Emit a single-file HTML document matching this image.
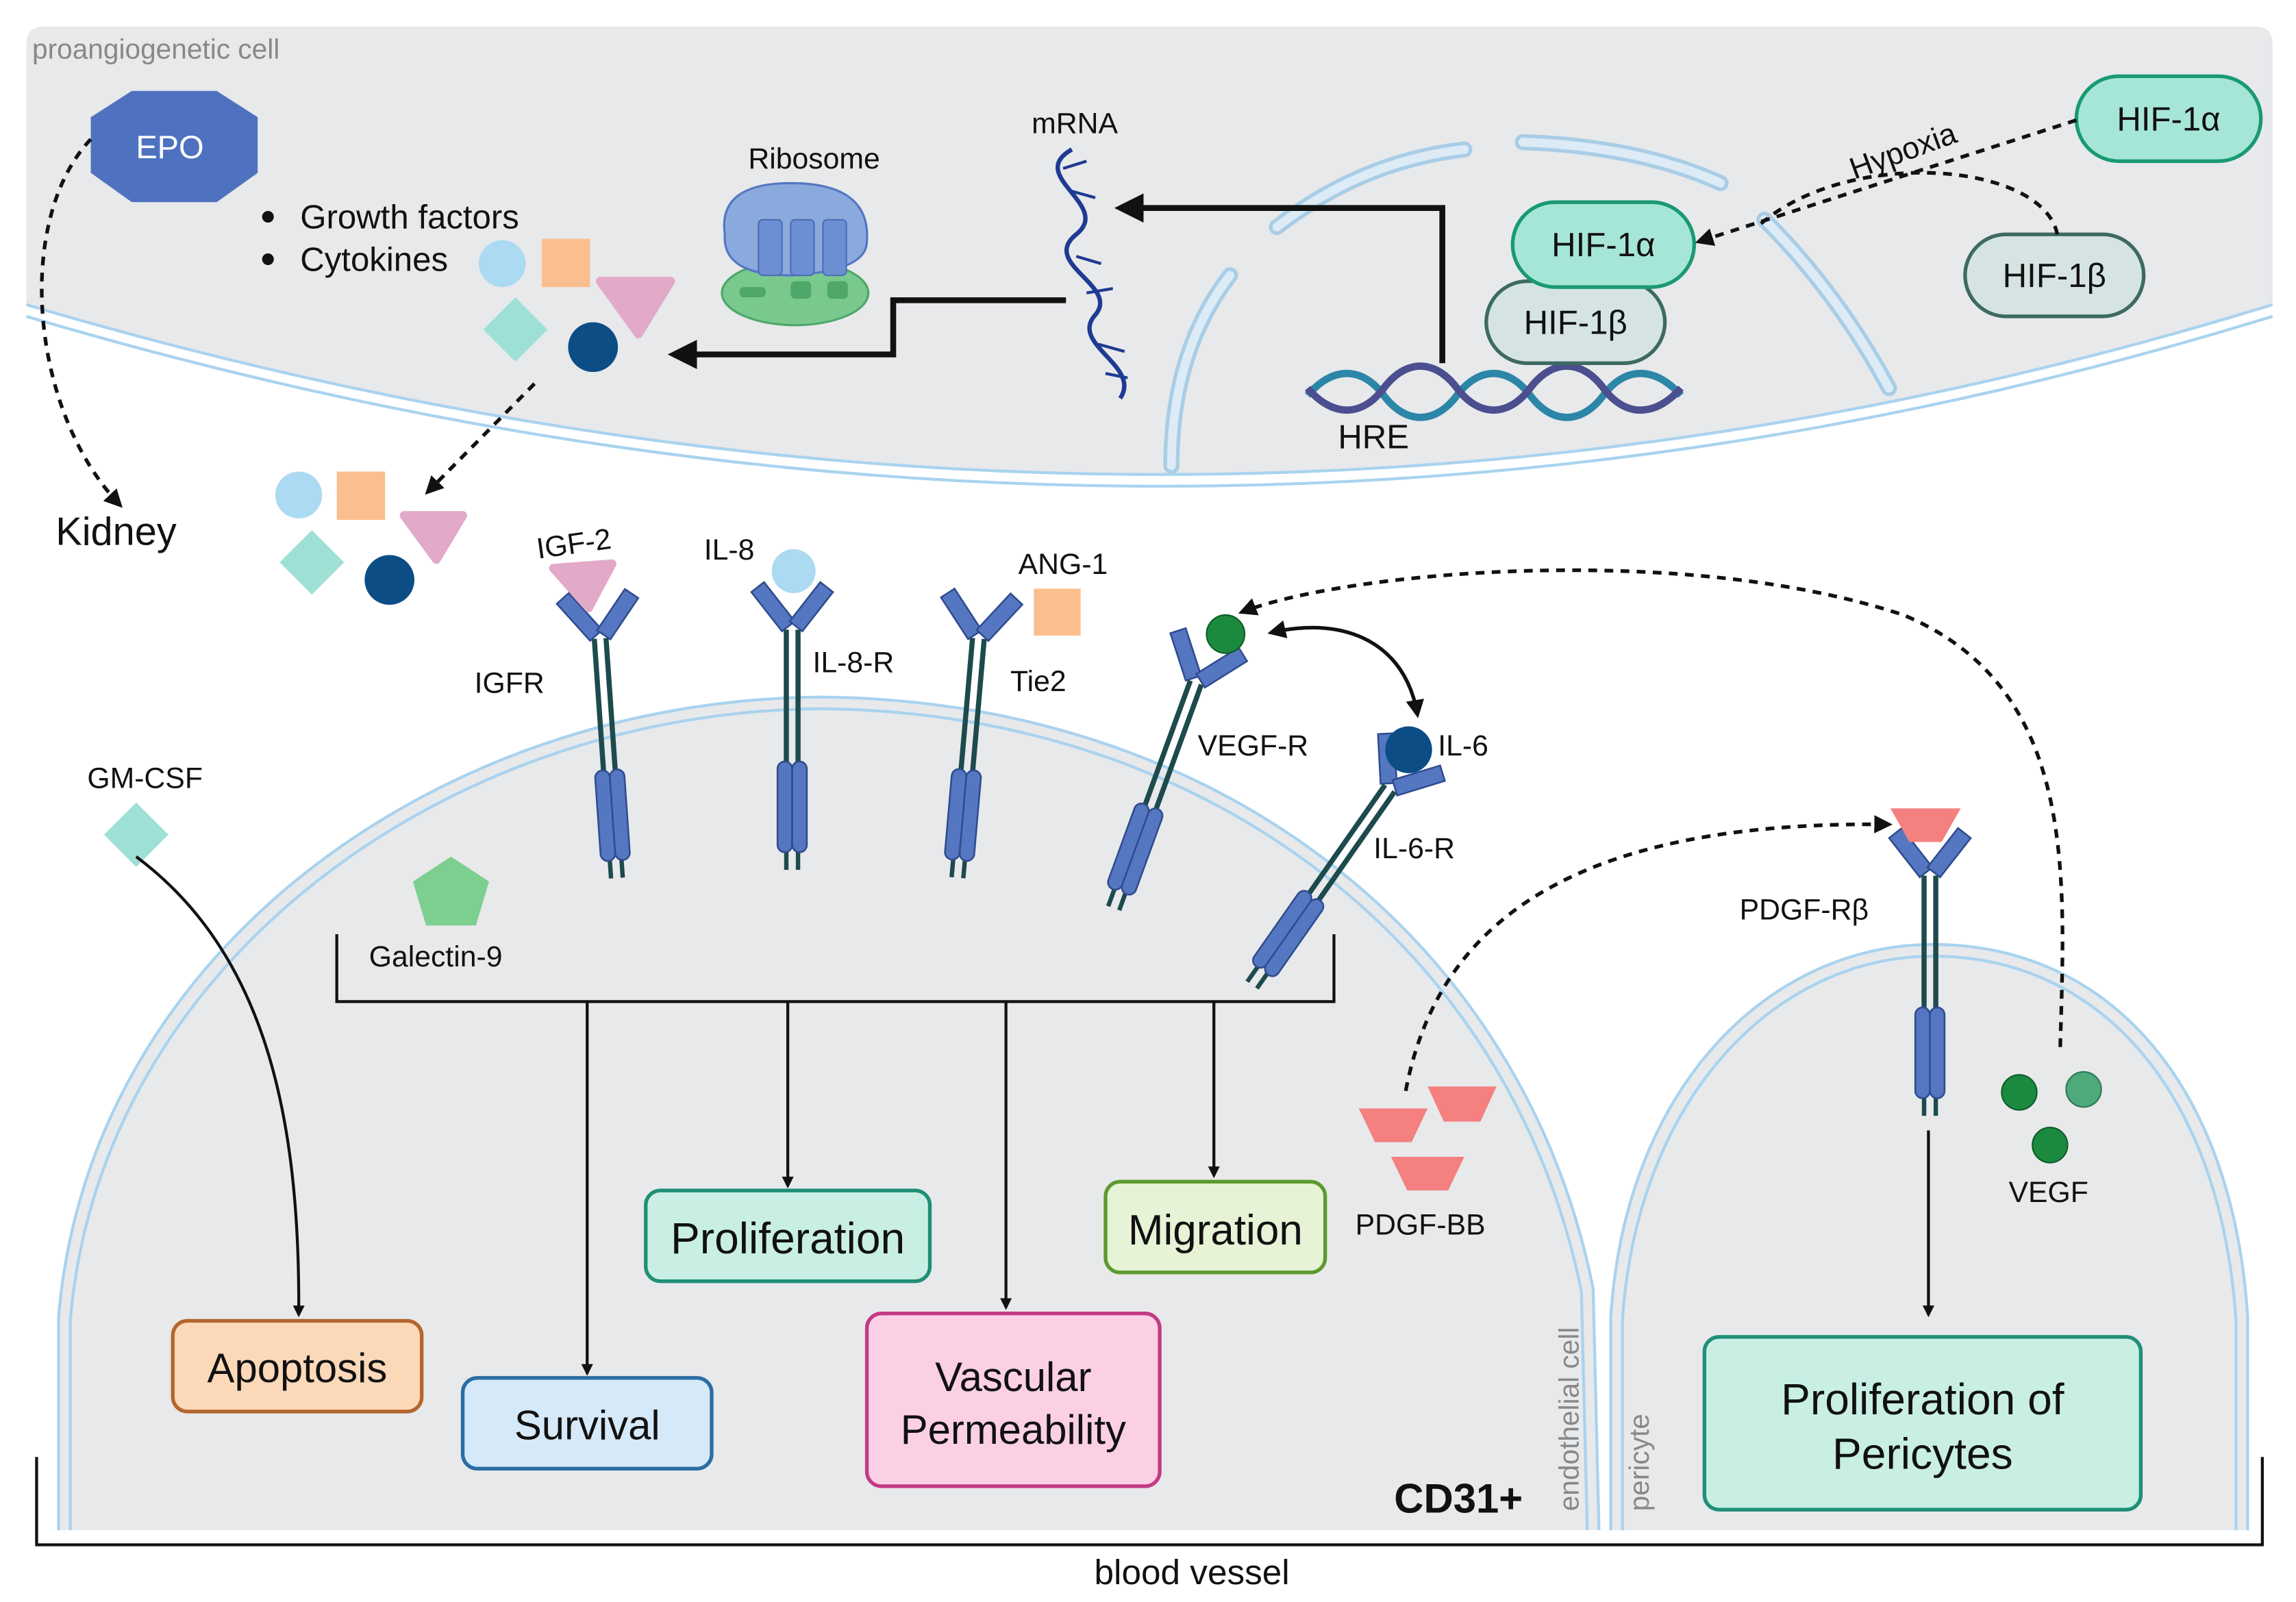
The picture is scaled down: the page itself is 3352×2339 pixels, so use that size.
<!DOCTYPE html>
<html><head><meta charset="utf-8"><style>
html,body{margin:0;padding:0;background:#fff;}
svg{display:block;}
text{font-family:"Liberation Sans",Arial,sans-serif;fill:#111;}
</style></head><body>
<svg width="3352" height="2339" viewBox="0 0 1568 1094" xmlns="http://www.w3.org/2000/svg">
<defs>
<marker id="ah" viewBox="0 0 10 10" refX="8" refY="5" markerWidth="5" markerHeight="5" orient="auto-start-reverse"><path d="M0,0 L10,5 L0,10 z" fill="#111"/></marker>
<marker id="ahb" viewBox="0 0 10 10" refX="8" refY="5" markerWidth="4" markerHeight="4" orient="auto-start-reverse"><path d="M0,0 L10,5 L0,10 z" fill="#111"/></marker>
<g id="rec">
  <rect x="-8" y="-38" width="11" height="34" fill="#5577c2" stroke="#2f4c8e" stroke-width="1.2" transform="rotate(-38 -3 -4)"/>
  <rect x="-3" y="-38" width="11" height="34" fill="#5577c2" stroke="#2f4c8e" stroke-width="1.2" transform="rotate(38 3 -4)"/>
  <line x1="-4" y1="-2" x2="-4" y2="92" stroke="#1d4a4d" stroke-width="3.5"/>
  <line x1="4" y1="-2" x2="4" y2="92" stroke="#1d4a4d" stroke-width="3.5"/>
  <line x1="-4" y1="145" x2="-4" y2="162" stroke="#1d4a4d" stroke-width="3"/>
  <line x1="4" y1="145" x2="4" y2="162" stroke="#1d4a4d" stroke-width="3"/>
  <rect x="-10" y="88" width="10" height="62" rx="5" fill="#5577c2" stroke="#2f4c8e" stroke-width="1.2"/>
  <rect x="0" y="88" width="10" height="62" rx="5" fill="#5577c2" stroke="#2f4c8e" stroke-width="1.2"/>
</g>
</defs>

<!-- top cell -->
<path d="M18,30 Q18,18 30,18 L1540,18 Q1552,18 1552,30 L1552,208 Q800,440 18,208 Z" fill="#e8e9eb"/>
<path d="M18,208 Q800,440 1552,208" fill="none" stroke="#a9d3ef" stroke-width="2"/>
<path d="M18,216 Q800,448 1552,216" fill="none" stroke="#a9d3ef" stroke-width="2"/>
<text x="22" y="40" font-size="19" style="fill:#888">proangiogenetic cell</text>

<!-- ER arcs -->
<g fill="none" stroke="#a9cde6" stroke-width="11" stroke-linecap="round">
<path d="M800,318 Q800,240 840,188" />
<path d="M872,155 Q930,110 1000,102" />
<path d="M1040,97 Q1120,100 1175,125" />
<path d="M1205,150 Q1255,200 1290,265" />
</g>
<g fill="none" stroke="#dcebf6" stroke-width="6" stroke-linecap="round">
<path d="M800,318 Q800,240 840,188" />
<path d="M872,155 Q930,110 1000,102" />
<path d="M1040,97 Q1120,100 1175,125" />
<path d="M1205,150 Q1255,200 1290,265" />
</g>

<!-- EPO -->
<polygon points="62,80 90,62 148,62 176,80 176,118 148,138 90,138 62,118" fill="#4f72c0"/>
<text x="116" y="108" font-size="22" text-anchor="middle" style="fill:#fff">EPO</text>
<path d="M62,95 C10,150 20,280 82,345" fill="none" stroke="#111" stroke-width="2.5" stroke-dasharray="6,5" marker-end="url(#ah)"/>
<text x="38" y="372" font-size="27">Kidney</text>

<!-- growth factors list -->
<circle cx="183" cy="148" r="4" fill="#111"/><circle cx="183" cy="177" r="4" fill="#111"/>
<text x="205" y="156" font-size="23">Growth factors</text>
<text x="205" y="185" font-size="23">Cytokines</text>
<circle cx="343" cy="180" r="16" fill="#abdaf2"/>
<rect x="370" y="163" width="33" height="33" fill="#fbbf8f"/>
<polygon points="410,192 458,192 436,228" fill="#e2a9c9" stroke="#e2a9c9" stroke-width="6" stroke-linejoin="round"/>
<polygon points="352,203 374,225 352,247 330,225" fill="#9fe0d6"/>
<circle cx="405" cy="237" r="17" fill="#0d4d86"/>
<path d="M365,262 L292,336" fill="none" stroke="#111" stroke-width="2.5" stroke-dasharray="6,5" marker-end="url(#ah)"/>
<circle cx="204" cy="338" r="16" fill="#abdaf2"/>
<rect x="230" y="322" width="33" height="33" fill="#fbbf8f"/>
<polygon points="276,352 316,352 298,382" fill="#e2a9c9" stroke="#e2a9c9" stroke-width="6" stroke-linejoin="round"/>
<polygon points="213,362 235,384 213,406 191,384" fill="#9fe0d6"/>
<circle cx="266" cy="396" r="17" fill="#0d4d86"/>

<!-- ribosome -->
<text x="556" y="115" font-size="20" text-anchor="middle">Ribosome</text>
<ellipse cx="543" cy="200" rx="50" ry="22" fill="#79c98f" stroke="#4fa769" stroke-width="1.5"/>
<path d="M495,160 Q490,125 540,125 Q595,125 592,165 Q592,185 540,188 Q493,188 495,160Z" fill="#8aa9dd" stroke="#5577c2" stroke-width="1.5"/>
<rect x="518" y="150" width="16" height="38" rx="3" fill="#6c8fd3" stroke="#4c6db7"/>
<rect x="540" y="150" width="16" height="38" rx="3" fill="#6c8fd3" stroke="#4c6db7"/>
<rect x="562" y="150" width="16" height="38" rx="3" fill="#6c8fd3" stroke="#4c6db7"/>
<rect x="505" y="196" width="18" height="7" rx="3" fill="#4fa769"/>
<rect x="540" y="192" width="14" height="12" rx="3" fill="#4fa769"/>
<rect x="565" y="192" width="14" height="12" rx="3" fill="#4fa769"/>
<path d="M728,205 L610,205 L610,242 L460,242" fill="none" stroke="#111" stroke-width="4" marker-end="url(#ah)"/>

<!-- mRNA -->
<text x="734" y="91" font-size="20" text-anchor="middle">mRNA</text>
<path d="M732,102 C700,120 760,140 735,160 C710,180 765,195 748,215 C730,235 780,250 765,272" fill="none" stroke="#1f3a93" stroke-width="3"/>
<path d="M726,115 L742,110 M730,130 L748,135 M735,175 L752,180 M742,200 L760,197 M750,235 L768,240 M755,255 L770,258" stroke="#1f3a93" stroke-width="2"/>
<path d="M985,248 L985,142 L765,142" fill="none" stroke="#111" stroke-width="4" marker-end="url(#ah)"/>

<!-- DNA HRE -->
<path d="M893,270 C910,250 930,250 945,270 C960,290 980,290 995,270 C1010,250 1030,250 1045,270 C1060,290 1080,290 1095,270 C1110,250 1130,250 1148,270" fill="none" stroke="#2c86a8" stroke-width="5"/>
<path d="M893,265 C910,285 930,285 945,265 C960,245 980,245 995,265 C1010,285 1030,285 1045,265 C1060,245 1080,245 1095,265 C1110,285 1130,285 1148,265" fill="none" stroke="#4b4f8f" stroke-width="5"/>
<text x="938" y="306" font-size="23" text-anchor="middle">HRE</text>

<!-- HIF -->
<rect x="1015" y="192" width="122" height="56" rx="28" fill="#d5e4e2" stroke="#3d6a62" stroke-width="2.5"/>
<text x="1076" y="228" font-size="23" text-anchor="middle">HIF-1β</text>
<rect x="1033" y="138" width="124" height="58" rx="29" fill="#a6e6d8" stroke="#1a9a72" stroke-width="2.5"/>
<text x="1095" y="175" font-size="23" text-anchor="middle">HIF-1α</text>
<rect x="1418" y="52" width="126" height="58" rx="29" fill="#a6e6d8" stroke="#1a9a72" stroke-width="2.5"/>
<text x="1481" y="89" font-size="23" text-anchor="middle">HIF-1α</text>
<rect x="1342" y="160" width="122" height="56" rx="28" fill="#d5e4e2" stroke="#3d6a62" stroke-width="2.5"/>
<text x="1403" y="196" font-size="23" text-anchor="middle">HIF-1β</text>
<path d="M1418,82 L1160,165" fill="none" stroke="#111" stroke-width="2.5" stroke-dasharray="6,5" marker-end="url(#ah)"/>
<path d="M1405,160 C1395,110 1260,100 1200,155" fill="none" stroke="#111" stroke-width="2.5" stroke-dasharray="6,5"/>
<text x="1300" y="110" font-size="21" text-anchor="middle" transform="rotate(-20 1300 104)">Hypoxia</text>

<!-- endothelial cell -->
<path d="M40,1045 L40,900 C60,650 300,478 560,476 C830,478 1040,640 1088,880 L1092,1045 Z" fill="#e8e9eb"/>
<path d="M40,1045 L40,900 C60,650 300,478 560,476 C830,478 1040,640 1088,880 L1092,1045" fill="none" stroke="#a9d3ef" stroke-width="2"/>
<path d="M48,1045 L48,902 C68,658 305,486 560,484 C825,486 1032,646 1080,882 L1084,1045" fill="none" stroke="#a9d3ef" stroke-width="2"/>
<text x="1078" y="1032" font-size="19" style="fill:#888" transform="rotate(-90 1078 1032)">endothelial cell</text>
<text x="1040" y="1033" font-size="28" font-weight="bold" text-anchor="end">CD31+</text>

<!-- pericyte -->
<path d="M1100,1045 L1100,900 C1110,740 1210,645 1320,645 C1440,645 1525,740 1535,900 L1535,1045 Z" fill="#e8e9eb"/>
<path d="M1100,1045 L1100,900 C1110,740 1210,645 1320,645 C1440,645 1525,740 1535,900 L1535,1045" fill="none" stroke="#a9d3ef" stroke-width="2"/>
<path d="M1108,1045 L1108,902 C1118,748 1214,653 1320,653 C1436,653 1517,748 1527,902 L1527,1045" fill="none" stroke="#a9d3ef" stroke-width="2"/>
<text x="1126" y="1032" font-size="19" style="fill:#888" transform="rotate(-90 1126 1032)">pericyte</text>

<!-- blood vessel bracket -->
<path d="M25,995 L25,1055 L1545,1055 L1545,995" fill="none" stroke="#111" stroke-width="2"/>
<text x="814" y="1082" font-size="24" text-anchor="middle">blood vessel</text>

<!-- receptors -->
<use href="#rec" transform="translate(410,438) rotate(-4)"/>
<use href="#rec" transform="translate(541,432)"/>
<use href="#rec" transform="translate(668,438) rotate(5)"/>
<use href="#rec" transform="translate(816,468) rotate(20)"/>
<use href="#rec" transform="translate(948,540) rotate(35)"/>
<use href="#rec" transform="translate(1318,600)"/>

<!-- ligands -->
<text x="392" y="378" font-size="20" text-anchor="middle" transform="rotate(-8 392 372)">IGF-2</text>
<polygon points="378,388 418,385 402,415" fill="#e2a9c9" stroke="#e2a9c9" stroke-width="6" stroke-linejoin="round"/>
<text x="498" y="382" font-size="20" text-anchor="middle">IL-8</text>
<circle cx="542" cy="390" r="15" fill="#abdaf2"/>
<text x="726" y="392" font-size="20" text-anchor="middle">ANG-1</text>
<rect x="706" y="402" width="32" height="32" fill="#fbbf8f"/>
<text x="324" y="473" font-size="20">IGFR</text>
<text x="555" y="459" font-size="20">IL-8-R</text>
<text x="690" y="472" font-size="20">Tie2</text>
<text x="818" y="516" font-size="20">VEGF-R</text>
<text x="938" y="586" font-size="20">IL-6-R</text>
<text x="1188" y="628" font-size="20">PDGF-Rβ</text>
<circle cx="837" cy="433" r="13" fill="#1b8a3e" stroke="#0d5e28"/>
<circle cx="962" cy="512" r="16" fill="#0d4d86"/>
<text x="982" y="516" font-size="20">IL-6</text>
<path d="M868,432 C920,420 960,440 968,488" fill="none" stroke="#111" stroke-width="2.5" marker-start="url(#ah)" marker-end="url(#ah)"/>
<polygon points="1291,552 1339,552 1326,575 1304,575" fill="#f48080"/>

<!-- Galectin / GM-CSF -->
<polygon points="308,585 334,602 325,632 291,632 282,602" fill="#7ccf8f"/>
<text x="252" y="660" font-size="20">Galectin-9</text>
<text x="99" y="538" font-size="20" text-anchor="middle">GM-CSF</text>
<polygon points="93,548 115,570 93,592 71,570" fill="#9fe0d6"/>
<path d="M93,585 C180,650 205,760 204,898" fill="none" stroke="#111" stroke-width="2" marker-end="url(#ahb)"/>

<!-- bracket & arrows -->
<path d="M230,638 L230,684 L911,684 L911,638" fill="none" stroke="#111" stroke-width="2"/>
<g stroke="#111" stroke-width="2" fill="none">
<path d="M401,684 L401,938" marker-end="url(#ahb)"/>
<path d="M538,684 L538,810" marker-end="url(#ahb)"/>
<path d="M687,684 L687,893" marker-end="url(#ahb)"/>
<path d="M829,684 L829,803" marker-end="url(#ahb)"/>
<path d="M1317,772 L1317,898" marker-end="url(#ahb)"/>
</g>

<!-- PDGF-BB -->
<polygon points="928,757 975,757 964,780 939,780" fill="#f48080"/>
<polygon points="975,742 1022,742 1011,766 986,766" fill="#f48080"/>
<polygon points="950,790 1000,790 989,813 961,813" fill="#f48080"/>
<text x="970" y="843" font-size="20" text-anchor="middle">PDGF-BB</text>
<path d="M960,745 C980,640 1060,560 1290,563" fill="none" stroke="#111" stroke-width="2.5" stroke-dasharray="6,5" marker-end="url(#ah)"/>

<!-- VEGF -->
<circle cx="1379" cy="746" r="12" fill="#1b8a3e" stroke="#0d5e28"/>
<circle cx="1423" cy="744" r="12" fill="#4ea97b" stroke="#2e7a54"/>
<circle cx="1400" cy="782" r="12" fill="#1b8a3e" stroke="#0d5e28"/>
<text x="1399" y="821" font-size="20" text-anchor="middle">VEGF</text>
<path d="M1407,715 C1410,600 1420,470 1300,420 C1150,370 920,390 848,418" fill="none" stroke="#111" stroke-width="2.5" stroke-dasharray="6,5" marker-end="url(#ah)"/>

<!-- outcome boxes -->
<rect x="118" y="902" width="170" height="62" rx="10" fill="#fbd8b8" stroke="#b3662d" stroke-width="2.5"/>
<text x="203" y="944" font-size="28" text-anchor="middle">Apoptosis</text>
<rect x="316" y="941" width="170" height="62" rx="10" fill="#d5e9f8" stroke="#2b6da5" stroke-width="2.5"/>
<text x="401" y="983" font-size="28" text-anchor="middle">Survival</text>
<rect x="441" y="813" width="194" height="62" rx="10" fill="#c9efe5" stroke="#1f8f77" stroke-width="2.5"/>
<text x="538" y="856" font-size="30" text-anchor="middle">Proliferation</text>
<rect x="592" y="897" width="200" height="118" rx="10" fill="#fbd0e5" stroke="#c33a86" stroke-width="2.5"/>
<text x="692" y="950" font-size="28" text-anchor="middle">Vascular</text>
<text x="692" y="986" font-size="28" text-anchor="middle">Permeability</text>
<rect x="755" y="807" width="150" height="62" rx="10" fill="#e7f3d6" stroke="#5c9a2f" stroke-width="2.5"/>
<text x="830" y="850" font-size="29" text-anchor="middle">Migration</text>
<rect x="1164" y="913" width="298" height="118" rx="10" fill="#c9efe5" stroke="#1f8f77" stroke-width="2.5"/>
<text x="1313" y="966" font-size="30" text-anchor="middle">Proliferation of</text>
<text x="1313" y="1003" font-size="30" text-anchor="middle">Pericytes</text>
</svg>
</body></html>
